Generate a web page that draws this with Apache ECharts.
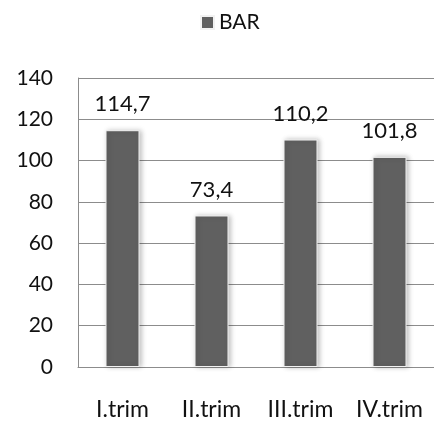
<!DOCTYPE html>
<html>
<head>
<meta charset="utf-8">
<script src="https://cdn.jsdelivr.net/npm/echarts@6/dist/echarts.min.js"></script>
<style>
html,body{margin:0;padding:0;background:#fff;}
#chart{width:434px;height:421px;}
</style>
</head>
<body>
<div id="chart"></div>
<script>
var categories = ['I.trim', 'II.trim', 'III.trim', 'IV.trim'];
var barValues = [114.7, 73.4, 110.2, 101.8];
var seriesName = 'BAR';
var yTicks = {min: 0, max: 140, interval: 20};

var FONT = 'Lato';
var chart = echarts.init(document.getElementById('chart'), null, {renderer: 'canvas'});
chart.setOption({
  animation: false,
  backgroundColor: '#ffffff',
  textStyle: {fontFamily: FONT},
  legend: {
    data: [seriesName],
    top: 12,
    left: 200,
    padding: 0,
    itemWidth: 13,
    itemHeight: 13,
    itemGap: 10,
    icon: 'rect',
    textStyle: {fontFamily: FONT, fontSize: 21, color: '#111'}
  },
  grid: {left: 78, top: 78, bottom: 51, right: -8, containLabel: false},
  xAxis: {
    type: 'category',
    data: categories,
    axisLine: {show: true, lineStyle: {color: '#8c8c8c', width: 1}},
    axisTick: {show: false},
    axisLabel: {fontFamily: FONT, fontSize: 23, color: '#111', margin: 31},
    splitLine: {show: false}
  },
  yAxis: {
    type: 'value',
    min: yTicks.min,
    max: yTicks.max,
    interval: yTicks.interval,
    axisLine: {show: true, lineStyle: {color: '#8c8c8c', width: 1}},
    axisTick: {show: false},
    axisLabel: {fontFamily: FONT, fontSize: 21, color: '#111', margin: 25},
    splitLine: {show: true, lineStyle: {color: '#8c8c8c', width: 1}}
  },
  series: [{
    name: seriesName,
    type: 'bar',
    data: barValues,
    barWidth: 34,
    itemStyle: {
      color: '#606060',
      borderColor: '#f2f2f2',
      borderWidth: 1,
      shadowBlur: 5,
      shadowColor: 'rgba(0,0,0,0.25)',
      shadowOffsetX: 2,
      shadowOffsetY: 0
    },
    label: {
      show: true,
      position: 'top',
      distance: 15,
      fontFamily: FONT,
      fontSize: 22,
      color: '#111',
      formatter: function (p) { return String(p.value).replace('.', ','); }
    }
  }]
});
</script>
</body>
</html>
